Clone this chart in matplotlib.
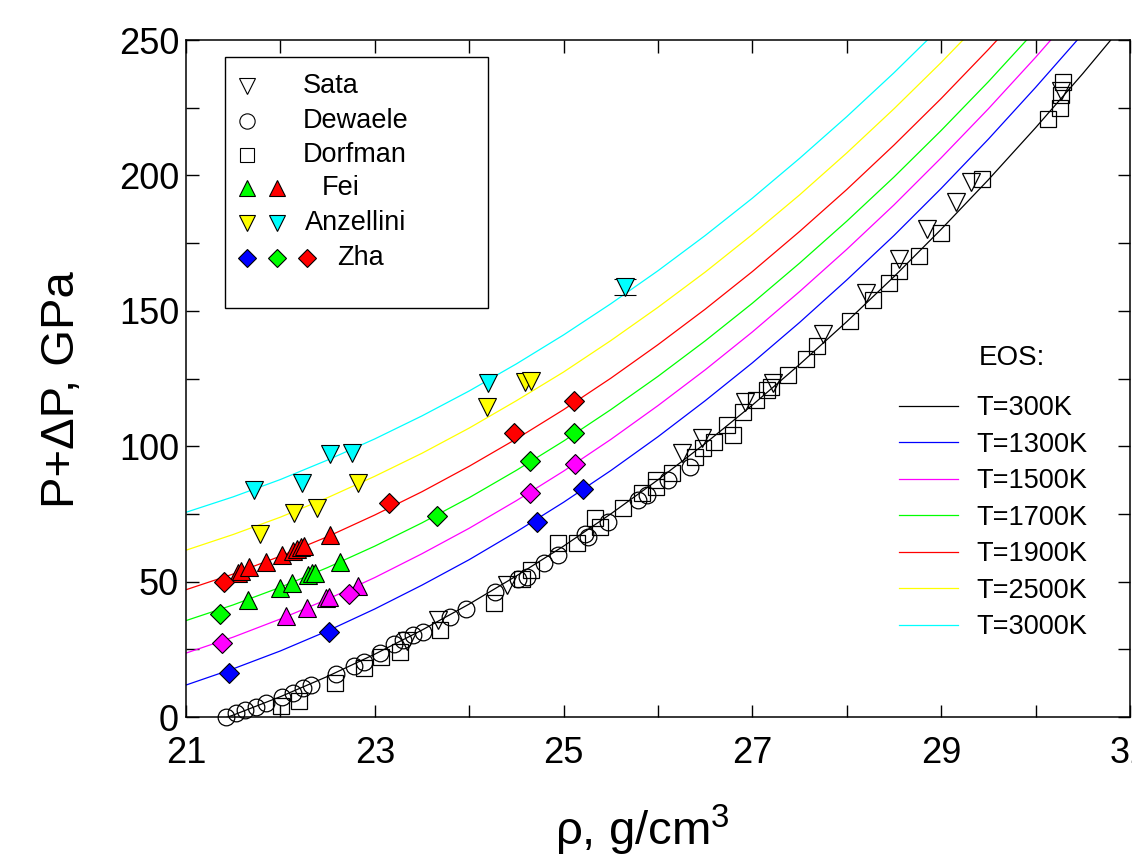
import matplotlib
matplotlib.use('Agg')
import matplotlib.pyplot as plt
from matplotlib.ticker import FixedLocator, NullFormatter
from matplotlib.patches import Rectangle

plt.rcParams['font.family'] = ['Liberation Sans', 'DejaVu Sans']
plt.rcParams['mathtext.fontset'] = 'custom'
plt.rcParams['mathtext.rm'] = 'Liberation Sans'
plt.rcParams['mathtext.it'] = 'Liberation Sans:italic'

# EOS isotherms, P+dP (GPa) on a density grid (g/cm3)
rho_grid = [21.0, 21.5, 22.0, 22.5, 23.0, 23.5, 24.0, 24.5, 25.0, 25.5, 26.0,
            26.5, 27.0, 27.5, 28.0, 28.5, 29.0, 29.5, 30.0, 30.5, 31.0]
eos_300 = [-5.4, 0.7, 7.5, 15.0, 23.2, 32.1, 41.7, 52.1, 63.1, 75.0, 87.6,
           101.0, 115.2, 130.2, 146.0, 162.6, 180.1, 198.4, 217.6, 237.6, 258.5]
eos_1300 = [11.8, 17.8, 24.4, 31.8, 39.9, 48.7, 58.1, 68.4, 79.3, 91.0, 103.5,
            116.8, 130.8, 145.7, 161.4, 177.8, 195.2, 213.4, 232.5, 252.3]
eos_1500 = [23.6, 29.5, 36.2, 43.5, 51.5, 60.3, 69.7, 79.9, 90.8, 102.5, 115.0,
            128.2, 142.2, 157.1, 172.7, 189.1, 206.5, 224.6, 243.6, 263.5]
eos_1700 = [35.6, 41.4, 47.9, 55.2, 63.1, 71.7, 81.0, 91.1, 101.9, 113.5, 125.8,
            138.9, 152.8, 167.6, 183.1, 199.4, 216.6, 234.6, 253.6]
eos_1900 = [47.0, 52.8, 59.4, 66.6, 74.6, 83.2, 92.6, 102.7, 113.5, 125.1, 137.5,
            150.6, 164.5, 179.3, 194.8, 211.2, 228.4, 246.5, 265.4]
eos_2500 = [61.6, 67.4, 73.8, 81.0, 88.9, 97.4, 106.7, 116.8, 127.4, 139.0, 151.3,
            164.3, 178.2, 192.8, 208.3, 224.6, 241.7, 259.7]
eos_3000 = [75.6, 81.3, 87.7, 94.9, 102.7, 111.2, 120.4, 130.4, 141.1, 152.6, 164.8,
            177.8, 191.6, 206.3, 221.7, 237.9, 255.0]
eos_labels = ['T=300K', 'T=1300K', 'T=1500K', 'T=1700K', 'T=1900K', 'T=2500K', 'T=3000K']
eos_colors = ['black', 'blue', 'magenta', '#00ff00', 'red', 'yellow', 'cyan']

# experimental data
sata_rho = [23.34, 23.67, 24.40, 26.25, 26.47, 26.92, 27.22, 27.75, 28.20, 28.55,
            28.85, 29.16, 29.32, 30.27]
sata_p = [28.0, 35.8, 48.7, 97.6, 103.1, 116.4, 123.5, 141.4, 156.4, 169.3,
          180.1, 190.3, 197.5, 231.0]
dewaele_rho = [21.42, 21.53, 21.62, 21.74, 21.85, 22.02, 22.13, 22.24, 22.32, 22.59,
               22.78, 22.89, 23.05, 23.20, 23.30, 23.41, 23.51, 23.80, 23.97, 24.27,
               24.52, 24.61, 24.79, 24.94, 25.23, 25.26, 25.47, 25.79, 25.88, 26.11, 26.34]
dewaele_p = [0.0, 1.4, 2.6, 3.8, 5.0, 7.3, 9.0, 10.6, 11.8, 15.9,
             18.8, 20.4, 23.5, 27.0, 28.4, 30.3, 31.5, 36.8, 39.8, 46.3,
             50.8, 51.8, 56.7, 59.8, 67.6, 66.6, 72.1, 80.1, 82.0, 87.5, 92.4]
dorfman_rho = [22.01, 22.20, 22.58, 22.89, 23.07, 23.27, 23.69, 24.26, 24.56, 24.65,
               24.94, 25.14, 25.33, 25.39, 25.63, 25.83, 25.98, 25.98, 26.15, 26.39,
               26.48, 26.59, 26.73, 26.79, 26.90, 27.04, 27.15, 27.20, 27.38, 27.57,
               27.68, 28.03, 28.28, 28.45, 28.55, 28.76, 29.00, 29.43, 30.13, 30.26,
               30.27, 30.29]
dorfman_p = [4.1, 6.0, 12.4, 18.0, 22.3, 24.1, 32.1, 42.2, 50.8, 54.3,
             64.4, 64.4, 73.4, 70.3, 77.1, 82.6, 87.5, 84.8, 90.2, 96.1,
             99.2, 101.7, 107.8, 104.1, 112.5, 117.0, 120.8, 122.0, 126.3, 132.1,
             137.0, 146.3, 154.0, 160.4, 164.7, 170.2, 178.8, 198.7, 220.8, 224.9,
             229.7, 234.5]
fei_green_rho = [21.66, 22.00, 22.12, 22.29, 22.33, 22.37, 22.63]
fei_green_p = [43.2, 47.8, 49.6, 52.4, 53.0, 53.3, 57.4]
fei_red_rho = [21.55, 21.58, 21.67, 21.85, 22.02, 22.13, 22.18, 22.22, 22.25, 22.53]
fei_red_p = [53.3, 53.9, 55.3, 57.4, 59.8, 61.4, 61.9, 62.7, 63.1, 67.2]
fei_magenta_rho = [22.06, 22.28, 22.48, 22.51, 22.82]
fei_magenta_p = [37.3, 40.1, 43.8, 44.2, 48.4]
anz_yellow_rho = [21.78, 22.14, 22.39, 22.82, 24.19, 24.59, 24.65]
anz_yellow_p = [67.6, 75.2, 77.3, 86.5, 114.6, 123.6, 124.2]
anz_cyan_rho = [21.72, 22.23, 22.53, 22.76, 24.20, 25.65]
anz_cyan_p = [83.8, 86.5, 97.1, 97.5, 123.5, 158.8]
anz_cyan_err = [0, 0, 0, 0, 0, 3.0]
zha_blue_rho = [21.46, 22.51, 24.72, 25.21]
zha_blue_p = [16.2, 31.4, 72.0, 84.2]
zha_magenta_rho = [21.38, 22.73, 24.64, 25.12]
zha_magenta_p = [27.2, 45.4, 82.8, 93.4]
zha_green_rho = [21.36, 23.66, 24.64, 25.11]
zha_green_p = [38.0, 74.3, 94.6, 105.0]
zha_red_rho = [21.40, 23.15, 24.47, 25.11]
zha_red_p = [49.7, 79.1, 104.8, 116.7]

x_major = [21, 23, 25, 27, 29, 31]
x_minor = [22, 24, 26, 28, 30]
y_major = [0, 50, 100, 150, 200, 250]
y_minor = [25, 75, 125, 175, 225]

fig = plt.figure(figsize=(11.32, 8.59), dpi=100)
ax = fig.add_axes([0.1643, 0.1653, 0.8339, 0.7881])

# isotherms
eos_lines = []
for vals, col, lab in zip([eos_300, eos_1300, eos_1500, eos_1700, eos_1900, eos_2500, eos_3000],
                          eos_colors, eos_labels):
    ln, = ax.plot(rho_grid[:len(vals)], vals, color=col, lw=0.9, label=lab)
    eos_lines.append(ln)

open_kw = dict(ls='none', mfc='none', mec='black', mew=0.9, clip_on=False)
ax.plot(dewaele_rho, dewaele_p, marker='o', ms=12, **open_kw)
ax.plot(dorfman_rho, dorfman_p, marker='s', ms=11, **open_kw)
ax.plot(sata_rho, sata_p, marker='v', ms=13, **open_kw)

fill_kw = dict(ls='none', mec='black', mew=0.8, clip_on=False)
ax.plot(fei_green_rho, fei_green_p, marker='^', ms=13, mfc='#00ff00', **fill_kw)
ax.plot(fei_magenta_rho, fei_magenta_p, marker='^', ms=13, mfc='magenta', **fill_kw)
ax.plot(fei_red_rho, fei_red_p, marker='^', ms=13, mfc='red', **fill_kw)
ax.plot(anz_yellow_rho, anz_yellow_p, marker='v', ms=13, mfc='yellow', **fill_kw)
err_pts = [(r, p, e) for r, p, e in zip(anz_cyan_rho, anz_cyan_p, anz_cyan_err) if e > 0]
ax.errorbar([t[0] for t in err_pts], [t[1] for t in err_pts], yerr=[t[2] for t in err_pts],
            fmt='none', ecolor='black', elinewidth=0.8, capsize=8, capthick=0.8)
ax.plot(anz_cyan_rho, anz_cyan_p, marker='v', ms=13, mfc='cyan', **fill_kw)
ax.plot(zha_blue_rho, zha_blue_p, marker='D', ms=10.5, mfc='blue', **fill_kw)
ax.plot(zha_magenta_rho, zha_magenta_p, marker='D', ms=10.5, mfc='magenta', **fill_kw)
ax.plot(zha_green_rho, zha_green_p, marker='D', ms=10.5, mfc='#00ff00', **fill_kw)
ax.plot(zha_red_rho, zha_red_p, marker='D', ms=10.5, mfc='red', **fill_kw)

ax.set_xlim(21, 31)
ax.set_ylim(0, 250)
ax.xaxis.set_major_locator(FixedLocator(x_major))
ax.xaxis.set_minor_locator(FixedLocator(x_minor))
ax.yaxis.set_major_locator(FixedLocator(y_major))
ax.yaxis.set_minor_locator(FixedLocator(y_minor))
ax.xaxis.set_minor_formatter(NullFormatter())
ax.yaxis.set_minor_formatter(NullFormatter())
ax.tick_params(which='both', direction='in', length=9, width=1, top=True, right=True)
ax.tick_params(axis='x', which='major', labelsize=26, pad=14)
ax.tick_params(axis='y', which='major', labelsize=26, pad=5)
for sp in ax.spines.values():
    sp.set_linewidth(1.1)

fig.text(62 / 1132, 1 - 390 / 859, 'P+ΔP, GPa', rotation=90, ha='center', va='center', fontsize=34)
fig.text(642 / 1132, 1 - 830 / 859, r'ρ, g/cm$^3$', ha='center', va='center', fontsize=34)

# data legend box (upper left)
ax.add_patch(Rectangle((0.0413, 0.604), 0.2786, 0.371, transform=ax.transAxes,
                       fill=False, ec='black', lw=1.0, zorder=5))
rows = [0.932, 0.880, 0.830, 0.781, 0.729, 0.678]
mx = [0.0646, 0.0964, 0.128]
lk = dict(transform=ax.transAxes, ls='none', mec='black', mew=0.8, zorder=6)
ax.plot(mx[0], rows[0], marker='v', ms=11, mfc='none', **lk)
ax.plot(mx[0], rows[1], marker='o', ms=11, mfc='none', **lk)
ax.plot(mx[0], rows[2], marker='s', ms=10, mfc='none', **lk)
ax.plot(mx[0], rows[3], marker='^', ms=11, mfc='#00ff00', **lk)
ax.plot(mx[1], rows[3], marker='^', ms=11, mfc='red', **lk)
ax.plot(mx[0], rows[4], marker='v', ms=11, mfc='yellow', **lk)
ax.plot(mx[1], rows[4], marker='v', ms=11, mfc='cyan', **lk)
ax.plot(mx[0], rows[5], marker='D', ms=9, mfc='blue', **lk)
ax.plot(mx[1], rows[5], marker='D', ms=9, mfc='#00ff00', **lk)
ax.plot(mx[2], rows[5], marker='D', ms=9, mfc='red', **lk)
legend_text = [(0.124, 'Sata'), (0.124, 'Dewaele'), (0.124, 'Dorfman'),
               (0.144, 'Fei'), (0.126, 'Anzellini'), (0.160, 'Zha')]
for (tx, txt), ty in zip(legend_text, rows):
    ax.text(tx, ty, txt, transform=ax.transAxes, ha='left', va='center', fontsize=19.5, zorder=6)

# EOS legend
ax.text(0.875, 0.530, 'EOS:', transform=ax.transAxes, ha='center', va='center', fontsize=20)
ax.legend(handles=eos_lines, loc='upper left', bbox_to_anchor=(0.755, 0.4755),
          frameon=False, fontsize=19.5, handlelength=2.2, handletextpad=0.65,
          labelspacing=0.39, borderpad=0, borderaxespad=0)

fig.savefig('out.png', dpi=100)
